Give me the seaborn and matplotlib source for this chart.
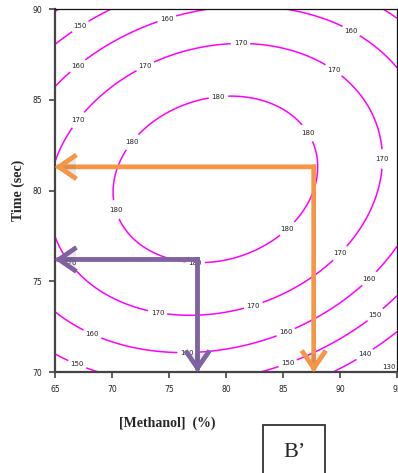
import numpy as np
import pandas as pd
import seaborn as sns
import matplotlib
matplotlib.use("Agg")
import matplotlib.pyplot as plt
from matplotlib.patches import Rectangle
import matplotlib.patheffects as pe

# Iso-response traces: methanol (%) and time (sec) along each contour level
meth_180 = [70.28, 70.54, 71.77, 72.74, 75.38, 77.75, 79.34, 82.15, 85.05, 87.16,
            87.87, 87.87, 87.60, 85.23, 82.15, 77.75, 73.97, 71.33]
time_180 = [80.30, 81.68, 82.67, 83.72, 84.82, 84.99, 85.15, 84.99, 84.27, 83.17,
            82.23, 81.29, 79.48, 77.99, 76.56, 76.06, 76.72, 77.82]

meth_170 = [65.18, 66.58, 68.08, 69.84, 72.48, 75.38, 77.75, 81.27, 83.65, 86.55,
            89.45, 91.56, 92.97, 93.41, 93.32, 91.83, 89.89, 87.43, 85.05, 82.41,
            77.75, 73.97, 71.33, 68.69, 66.32, 65.18]
time_170 = [81.52, 83.72, 84.99, 85.92, 86.80, 87.58, 87.85, 88.07, 87.91, 87.47,
            86.64, 85.15, 83.50, 81.74, 79.48, 77.66, 76.61, 75.18, 74.24, 73.64,
            73.03, 73.20, 73.69, 74.35, 76.01, 77.60]

meth_160 = [65.18, 67.02, 68.96, 71.86, 74.85, 77.14, 86.28, 88.04, 90.94, 92.97,
            95.08, 65.18, 67.46, 71.86, 75.38, 77.75, 80.66, 85.23, 88.04, 90.33,
            92.44, 95.08]
time_160 = [85.65, 86.86, 87.63, 88.46, 89.39, 89.94, 90.00, 89.67, 88.73, 87.74,
            86.75, 73.25, 72.31, 71.38, 71.10, 71.05, 71.21, 72.20, 73.03, 73.97,
            75.23, 76.34]

meth_150 = [65.18, 67.20, 69.57, 94.02, 95.08, 65.18, 66.93, 68.69, 82.85, 85.40,
            88.04, 90.68, 92.97, 95.08]
time_150 = [88.02, 89.06, 90.00, 90.00, 89.56, 71.05, 70.39, 70.00, 70.00, 70.50,
            71.38, 72.20, 73.25, 74.13]

meth_140 = [89.45, 92.09, 95.17]
time_140 = [70.00, 71.05, 72.31]

meth_130 = [93.50, 95.08]
time_130 = [70.00, 70.44]

levels = [130, 140, 150, 160, 170, 180]

# Where each contour carries its value label
label_meth = [67.2, 67.0, 67.0, 74.85, 72.9, 81.27, 71.77, 79.34, 90.94, 89.45,
              87.16, 93.41, 85.23, 70.28, 66.32, 77.3, 73.97, 82.41, 89.89, 68.25,
              76.6, 85.23, 92.44, 66.93, 85.40, 92.97, 92.09, 94.3]
label_time = [89.06, 86.86, 83.9, 89.39, 86.86, 88.07, 82.67, 85.15, 88.73, 86.64,
              83.17, 81.74, 77.99, 78.93, 76.01, 76.06, 73.20, 73.64, 76.61, 72.04,
              71.05, 72.20, 75.23, 70.39, 70.50, 73.25, 71.05, 70.3]

# Optimum read-outs marked by the arrows
orange_meth, orange_time = 87.7, 81.3
purple_meth, purple_time = 77.5, 76.2

x_ticks = [65, 70, 75, 80, 85, 90, 95]
y_ticks = [70, 75, 80, 85, 90]

# ---- second-order response surface fitted through the traced contours
frames = []
for lv, mx, ty in [(180, meth_180, time_180), (170, meth_170, time_170),
                   (160, meth_160, time_160), (150, meth_150, time_150),
                   (140, meth_140, time_140), (130, meth_130, time_130)]:
    frames.append(pd.DataFrame({"methanol": mx, "time": ty, "resp": lv}))
pts = pd.concat(frames, ignore_index=True)

def design(x, y):
    return np.column_stack([np.ones_like(x), x, y, x * x, y * y, x * y])

coef, *_ = np.linalg.lstsq(design(pts.methanol.values, pts.time.values),
                           pts.resp.values.astype(float), rcond=None)

gx, gy = np.meshgrid(np.linspace(65, 95, 400), np.linspace(70, 90, 400))
gz = (design(gx.ravel(), gy.ravel()) @ coef).reshape(gx.shape)

# ---- figure
sns.set_theme(style="white")
plt.rcParams["font.family"] = ["DejaVu Sans"]

W, H = 398, 473
fig = plt.figure(figsize=(W / 100, H / 100), dpi=100)
ax = fig.add_axes([55 / W, 1 - 372 / H, 342 / W, 363 / H])

cs = ax.contour(gx, gy, gz, levels=levels, colors="#FF00FF", linewidths=1.1)
texts = ax.clabel(cs, fmt="%d", fontsize=5, inline=True, inline_spacing=3,
                  colors="#222222",
                  manual=list(zip(label_meth, label_time)))
for t in texts:
    t.set_rotation(0)

shadow = [pe.withSimplePatchShadow(offset=(1, -1), alpha=0.12), pe.Normal()]

def l_arrow(mx, ty, color):
    style = "->,head_length=0.8,head_width=0.55"
    for end in [(65, ty), (mx, 70)]:
        ax.annotate("", xy=end, xytext=(mx, ty), zorder=6,
                    arrowprops=dict(arrowstyle=style, color=color, lw=3.2,
                                    mutation_scale=14, shrinkA=0, shrinkB=0,
                                    capstyle="projecting", joinstyle="miter",
                                    path_effects=shadow))

l_arrow(orange_meth, orange_time, "#F79646")
l_arrow(purple_meth, purple_time, "#8064A2")

ax.set_xlim(65, 95)
ax.set_ylim(70, 90)
ax.set_xticks(x_ticks)
ax.set_yticks(y_ticks)
ax.tick_params(axis="both", which="major", direction="out", length=4, width=1.1,
               color="#333333", labelsize=5.5, labelcolor="#222222", pad=5,
               bottom=True, left=True)

for side in ["left", "bottom"]:
    ax.spines[side].set_color("#444444")
    ax.spines[side].set_linewidth(1.6)
for side in ["top", "right"]:
    ax.spines[side].set_color("#111111")
    ax.spines[side].set_linewidth(0.9)

serif = ["Liberation Serif", "DejaVu Serif"]
fig.text(167 / W, 1 - 423 / H, "[Methanol]  (%)", family=serif, weight="bold",
         fontsize=10, ha="center", va="center")
fig.text(18 / W, 1 - 190 / H, "Time (sec)", family=serif, weight="bold",
         fontsize=10, ha="center", va="center", rotation=90)

fig.patches.append(Rectangle((263 / W, -0.05), 62 / W, (1 - 425 / H) + 0.05,
                             transform=fig.transFigure, fill=False,
                             edgecolor="#333333", linewidth=1.3))
fig.text(294 / W, 1 - 452 / H, "B\u2019", family=serif, fontsize=16,
         ha="center", va="center")

fig.savefig("out.png", dpi=100)
